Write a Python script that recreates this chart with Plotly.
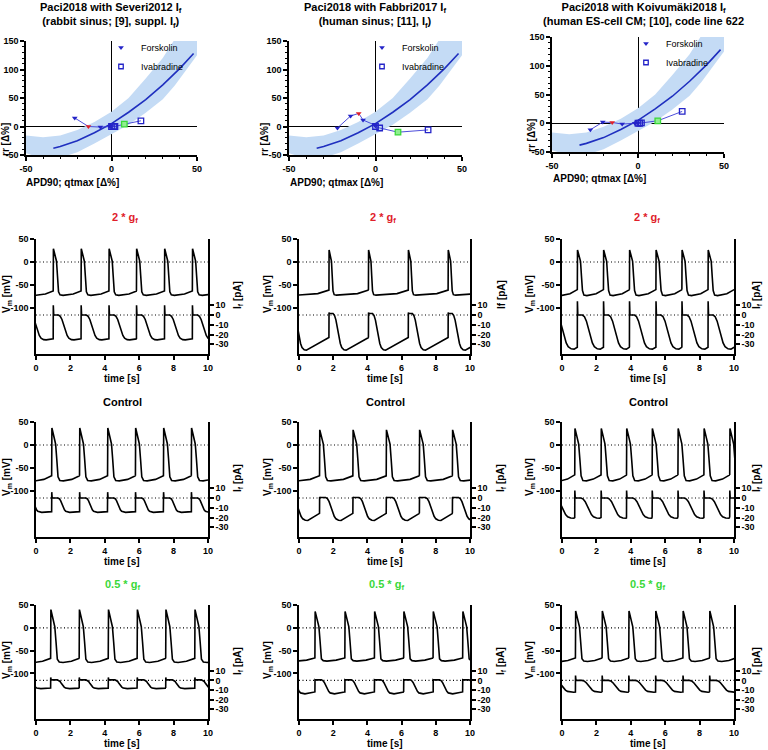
import plotly.graph_objects as go

W, H = 768, 750
FONT = "Liberation Sans"


def fx(px):
    return px / W


def fy(py):
    return 1 - py / H


# ---------------- top row: rr vs APD90/qtmax ----------------
TOP_TITLES = [
    "Paci2018 with Severi2012 I<sub>f</sub><br>(rabbit sinus; [9], suppl. I<sub>f</sub>)",
    "Paci2018 with Fabbri2017 I<sub>f</sub><br>(human sinus; [11], I<sub>f</sub>)",
    "Paci2018 with Koivumäki2018 I<sub>f</sub><br>(human ES-cell CM; [10], code line 622",
]
X_TICKS_TOP = [-50, 0, 50]
Y_TICKS_TOP = [-50, 0, 50, 100, 150]

FIT_X = [-34, -30, -20, -10, 0, 10, 20, 30, 40, 48]
FIT_Y = [-38, -35, -25, -11, 5, 25, 47, 73, 102, 128]
BAND_X = [-50, -40, -30, -20, -10, 0, 10, 20, 30, 37, 45, 50]
BAND_HI = [-16, -19, -16, -6, 8, 26, 50, 84, 120, 150, 190, 215]
BAND_LO = [-47, -56, -55, -45, -30, -14, 3, 24, 48, 72, 104, 125]

SEV_FSK_X = [-21.5, -13.5, -6.5, -1.0, 0.0]
SEV_FSK_Y = [15, 0, -1, 0.5, 0]
SEV_IVA_X = [0.0, 1.2, 2.0, 7.5, 17.2]
SEV_IVA_Y = [0, 0, 0, 4, 10]
FAB_FSK_X = [-22.0, -14.4, -9.7, -7.2, -0.5, 0.0]
FAB_FSK_Y = [-2.6, 18.4, 23, 11.4, 2.6, 1]
FAB_IVA_X = [0.0, 2.4, 13.0, 30.4]
FAB_IVA_Y = [0, -2.6, -10, -6]
KOI_FSK_X = [-27.7, -20.5, -15.0, -9.2, -1.8, 0.0]
KOI_FSK_Y = [-11.3, 2, 1.4, -1.4, 0, 0]
KOI_IVA_X = [0.0, 1.0, 2.0, 11.5, 25.7]
KOI_IVA_Y = [0, 0, 0.5, 4.3, 20.6]
FSK_HIGHLIGHT = [1, 2, 2]   # red point (2 * gf equivalent)
IVA_HIGHLIGHT = [3, 2, 3]   # green point (0.5 * gf equivalent)

# ---------------- AP / If traces ----------------
ROW_TITLES = ["2 * g<sub>f</sub>", "Control", "0.5 * g<sub>f</sub>"]
IF_LABELS = ["I<sub>f</sub> [pA]", "If [pA]", "I<sub>f</sub> [pA]",
             "I<sub>f</sub> [pA]", "I<sub>f</sub> [pA]", "I<sub>f</sub> [pA]",
             "I<sub>f</sub> [pA]", "I<sub>f</sub> [pA]", "I<sub>f</sub> [pA]"]
T_TICKS = [0, 2, 4, 6, 8, 10]
VM_TICKS = [50, 0, -50, -100]
IF_TICKS = [10, 0, -10, -20, -30]

AP_BEATS = [
    [1.00, 2.62, 4.24, 5.84, 7.47, 9.09],
    [1.75, 4.06, 6.39, 8.72],
    [0.89, 2.41, 3.92, 5.46, 6.97, 8.49],
    [0.91, 2.53, 4.16, 5.78, 7.41, 9.03],
    [1.20, 3.15, 5.10, 7.04, 8.97],
    [0.74, 2.27, 3.75, 5.24, 6.74, 8.25, 9.75],
    [0.85, 2.51, 4.20, 5.88, 7.54, 9.23],
    [0.93, 2.68, 4.41, 6.12, 7.84, 9.57],
    [0.78, 2.33, 3.88, 5.44, 7.03, 8.58],
]
VM_PEAK = [29, 26, 26, 37, 33, 36, 40, 36, 37]
VM_MIN = [-72.5, -72, -73, -78, -78, -78, -76, -73, -74]
VM_PRE = [-63, -61, -60, -67, -67, -65, -67, -66, -66]
APD = [0.31, 0.24, 0.30, 0.37, 0.36, 0.37, 0.39, 0.38, 0.38]
IF_SPIKE = [10, 2.7, 14, 6, 1, 7.7, 3, 0.7, 5]
IF_PLATEAU = [0, 1.5, 0, 0, 0.5, 0, 0.5, 0.5, 0]
IF_TROUGH = [-25.5, -36, -35, -14.7, -23, -20.7, -8.6, -14, -12.3]
IF_PRE = [-24.5, -23, -33, -14, -15.7, -20, -8, -12, -12]
IF_DECAY = [1.0, 0.85, 1.15, 0.75, 1.0, 1.2, 0.8, 0.85, 1.2]

# beat shape (fractions of APD / decay time)
VM_SHAPE_T = [0, 0.04, 0.33, 0.62, 0.80, 1.00, 1.28, 1.85]
IF_DECAY_T = [0.1, 0.2, 0.3, 0.4, 0.5, 0.6, 0.75, 0.9]
IF_DECAY_F = [0.05, 0.18, 0.42, 0.65, 0.82, 0.93, 0.99, 1.0]

# ---------------- layout geometry (px) ----------------
TOP_XDOM = [(26, 197), (289, 462), (552, 724)]
TOP_YDOM = [(41, 155), (41, 155), (37, 152)]
AP_XDOM = [(36, 208), (299, 470), (562, 734)]
AP_YDOM = [(239, 354), (422, 537), (605, 719)]

BLUE = "#1f2fbf"
MBLUE = "#2424c8"
RED = "#e0202a"
GREEN = "#3ad83a"
BAND = "#c4dbf5"

fig = go.Figure()
layout = dict(width=W, height=H,
              margin=dict(l=0, r=0, t=0, b=0, pad=0, autoexpand=False),
              paper_bgcolor="white", plot_bgcolor="white", autosize=False,
              font=dict(family=FONT, color="black"), showlegend=True)
annotations = []
shapes = []

tickfont = dict(family=FONT, size=9, color="black", weight="bold")


def axis_common():
    return dict(showline=True, linecolor="black", linewidth=1.5, ticks="outside",
                ticklen=4, tickwidth=1.5, tickcolor="black", tickfont=tickfont,
                showgrid=False, zeroline=False, fixedrange=True, automargin=False)


def ann(text, x, y, size=10, color="black", angle=0, xanchor="center", yanchor="middle", bold=True):
    annotations.append(dict(text=("<b>%s</b>" % text) if bold else text, x=fx(x), y=fy(y),
                            xref="paper", yref="paper", showarrow=False,
                            xanchor=xanchor, yanchor=yanchor, textangle=angle,
                            font=dict(family=FONT, size=size, color=color)))


FSK_X = [SEV_FSK_X, FAB_FSK_X, KOI_FSK_X]
FSK_Y = [SEV_FSK_Y, FAB_FSK_Y, KOI_FSK_Y]
IVA_X = [SEV_IVA_X, FAB_IVA_X, KOI_IVA_X]
IVA_Y = [SEV_IVA_Y, FAB_IVA_Y, KOI_IVA_Y]
LEG_POS = [(101, 33), (362, 33), (626, 29)]
TITLE_X = [111, 375, 643]
XT_POS = [(72, 182), (336, 182), (599, 178)]
YT_POS = [(6, 140), (265, 140), (531, 136)]

for i in range(3):
    n = i + 1
    xa, ya = "x%d" % n, "y%d" % n
    leg = "legend" if i == 0 else "legend%d" % n
    # band
    fig.add_trace(go.Scatter(x=BAND_X + BAND_X[::-1], y=BAND_HI + BAND_LO[::-1],
                             fill="toself", fillcolor=BAND, line=dict(width=0),
                             mode="lines", hoverinfo="skip", showlegend=False,
                             xaxis=xa, yaxis=ya))
    fig.add_trace(go.Scatter(x=FIT_X, y=FIT_Y, mode="lines", line=dict(color=BLUE, width=1.6),
                             showlegend=False, xaxis=xa, yaxis=ya))
    fc = [RED if j == FSK_HIGHLIGHT[i] else MBLUE for j in range(len(FSK_X[i]))]
    fig.add_trace(go.Scatter(x=FSK_X[i], y=FSK_Y[i], mode="lines+markers",
                             line=dict(color="#3a3ad6", width=0.9),
                             marker=dict(symbol="triangle-down", size=5, color=fc),
                             showlegend=False, xaxis=xa, yaxis=ya))
    ifill = ["#90ee90" if j == IVA_HIGHLIGHT[i] else "rgba(255,255,255,0)" for j in range(len(IVA_X[i]))]
    iline = [GREEN if j == IVA_HIGHLIGHT[i] else MBLUE for j in range(len(IVA_X[i]))]
    fig.add_trace(go.Scatter(x=IVA_X[i], y=IVA_Y[i], mode="lines+markers",
                             line=dict(color="#3a3ad6", width=0.9),
                             marker=dict(symbol="square", size=5.5, color=ifill,
                                         line=dict(color=iline, width=1.3)),
                             showlegend=False, xaxis=xa, yaxis=ya))
    # legend entries
    fig.add_trace(go.Scatter(x=[None], y=[None], mode="markers", name="Forskolin",
                             marker=dict(symbol="triangle-down", size=5, color=MBLUE),
                             legend=leg, xaxis=xa, yaxis=ya))
    fig.add_trace(go.Scatter(x=[None], y=[None], mode="markers", name="Ivabradine",
                             marker=dict(symbol="square-open", size=4.5, color=MBLUE,
                                         line=dict(width=1.3)),
                             legend=leg, xaxis=xa, yaxis=ya))
    lx, ly = LEG_POS[i]
    layout[leg] = dict(x=fx(lx), y=fy(ly), xanchor="left", yanchor="top",
                       bgcolor="rgba(0,0,0,0)", borderwidth=0,
                       font=dict(family=FONT, size=9, color="black"),
                       itemwidth=30, tracegroupgap=0)
    xd, yd = TOP_XDOM[i], TOP_YDOM[i]
    xax = axis_common()
    xax.update(domain=[fx(xd[0]), fx(xd[1])], range=[-50, 50], anchor=ya,
               tickvals=X_TICKS_TOP, ticktext=[str(v) for v in X_TICKS_TOP],
               zeroline=True, zerolinecolor="black", zerolinewidth=1,
               minor=dict(tickmode="linear", tick0=0, dtick=10, ticks="outside",
                          ticklen=2, tickwidth=1, tickcolor="black", showgrid=False))
    yax = axis_common()
    yax.update(domain=[fy(yd[1]), fy(yd[0])], range=[-50, 150], anchor=xa,
               tickvals=Y_TICKS_TOP, ticktext=[str(v) for v in Y_TICKS_TOP],
               zeroline=True, zerolinecolor="black", zerolinewidth=1,
               minor=dict(tickmode="linear", tick0=0, dtick=10, ticks="outside",
                          ticklen=2, tickwidth=1, tickcolor="black", showgrid=False))
    layout["xaxis%d" % n] = xax
    layout["yaxis%d" % n] = yax
    # texts
    annotations.append(dict(text="<b>%s</b>" % TOP_TITLES[i], x=fx(TITLE_X[i]), y=1,
                            xref="paper", yref="paper", showarrow=False, borderpad=0,
                            xanchor="center", yanchor="top",
                            font=dict(family=FONT, size=11, color="black")))
    ann("APD90; qtmax [Δ%]", *XT_POS[i], size=10)
    ann("rr [Δ%]", *YT_POS[i], size=10, angle=-90)


def vm_cycle(k, P):
    a, pk, mn, pre = APD[k], VM_PEAK[k], VM_MIN[k], VM_PRE[k]
    t = [f * a for f in VM_SHAPE_T] + [0.72 * P, 0.93 * P, P]
    v = [pre, pk, 0.57 * pk, 0.06 * pk, -30, pre - 2, mn + 1, mn,
         mn + 0.3 * (pre - mn), mn + 0.75 * (pre - mn), pre]
    return t, v


def if_cycle(k, P):
    a, s = APD[k], IF_DECAY[k]
    pl, tr = IF_PLATEAU[k], IF_TROUGH[k]
    t = [0, 0.006, 0.03, a]
    v = [IF_PRE[k], IF_SPIKE[k], pl, pl]
    for dt, f in zip(IF_DECAY_T, IF_DECAY_F):
        tt = a + s * dt
        if tt < P - 0.03:
            t.append(tt)
            v.append(pl + f * (tr - pl))
    t.append(P)
    v.append(IF_PRE[k])
    return t, v


def repeat(beats, t, v):
    P = (beats[-1] - beats[0]) / (len(beats) - 1)
    xs, ys = [], []
    for b in [beats[0] - P] + beats:
        for dt, val in zip(t, v):
            xs.append(round(b + dt, 4))
            ys.append(val)
    return xs, ys


TITLE_POS = [[(125, 218), (383, 218), (647, 218)],
             [(122, 402), (385, 402), (648, 402)],
             [(122, 585), (386, 585), (647, 585)]]
TITLE_COL = [RED, "black", GREEN]
VM_LX = [7, 268, 530]
IF_LX = [238, 501, 757]

for k in range(9):
    r, c = divmod(k, 3)
    nx = 4 + k
    ny_v = 4 + k
    ny_i = 13 + k
    xa, yv, yi = "x%d" % nx, "y%d" % ny_v, "y%d" % ny_i
    beats = AP_BEATS[k]
    P = (beats[-1] - beats[0]) / (len(beats) - 1)
    tv, vv = vm_cycle(k, P)
    xs, ys = repeat(beats, tv, vv)
    fig.add_trace(go.Scatter(x=xs, y=ys, mode="lines", line=dict(color="black", width=1.6),
                             showlegend=False, xaxis=xa, yaxis=yv))
    ti, vi = if_cycle(k, P)
    xs, ys = repeat(beats, ti, vi)
    fig.add_trace(go.Scatter(x=xs, y=ys, mode="lines", line=dict(color="black", width=1.6),
                             showlegend=False, xaxis=xa, yaxis=yi))
    xd, yd = AP_XDOM[c], AP_YDOM[r]
    xax = axis_common()
    xax.update(domain=[fx(xd[0]), fx(xd[1])], range=[0, 10], anchor=yv,
               tickvals=T_TICKS, ticktext=[str(v) for v in T_TICKS])
    yax = axis_common()
    yax.update(domain=[fy(yd[1]), fy(yd[0])], range=[-200, 50], anchor=xa,
               tickvals=VM_TICKS, ticktext=[str(v) for v in VM_TICKS])
    iax = axis_common()
    iax.update(overlaying=yv, side="right", anchor=xa, range=[-40, 78],
               tickvals=IF_TICKS, ticktext=[str(v) for v in IF_TICKS])
    layout["xaxis%d" % nx] = xax
    layout["yaxis%d" % ny_v] = yax
    layout["yaxis%d" % ny_i] = iax
    # dotted zero lines
    shapes.append(dict(type="line", xref="%s domain" % xa, yref=yv, x0=0, x1=1, y0=0, y1=0,
                       line=dict(color="black", width=1.2, dash="1px,2.5px")))
    shapes.append(dict(type="line", xref="%s domain" % xa, yref=yi, x0=0, x1=1, y0=0, y1=0,
                       line=dict(color="black", width=1.2, dash="1px,2.5px")))
    tx, ty = TITLE_POS[r][c]
    ann(ROW_TITLES[r], tx, ty, size=11, color=TITLE_COL[r])
    ann("V<sub>m</sub> [mV]", VM_LX[c], yd[0] + 55, size=10, angle=-90)
    ann(IF_LABELS[k], IF_LX[c], yd[0] + 56, size=10, angle=-90)
    ann("time [s]", (xd[0] + xd[1]) / 2, yd[1] + 24, size=10)

layout["annotations"] = annotations
layout["shapes"] = shapes
fig.update_layout(**layout)
fig.write_html("out.html", config={"displayModeBar": False, "responsive": False},
               post_script="document.body.style.margin='0px';document.body.style.overflow='hidden';")
